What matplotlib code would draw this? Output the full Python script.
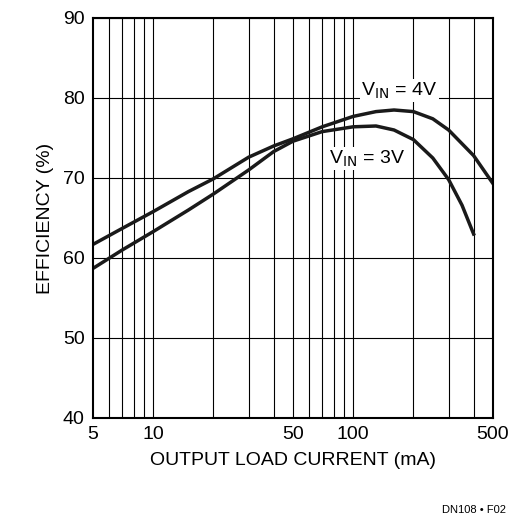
import matplotlib
matplotlib.use("Agg")
import matplotlib.pyplot as plt
import numpy as np

plt.rcParams['font.family'] = ['Liberation Sans Narrow', 'Liberation Sans', 'DejaVu Sans']

cur3 = [5, 7, 10, 15, 20, 30, 40, 50, 70, 100, 130, 160, 200, 250, 300, 350, 400]
eff3 = [58.7, 61.0, 63.3, 66.0, 68.0, 71.0, 73.3, 74.6, 75.8, 76.4, 76.5, 76.0, 74.8, 72.5, 69.8, 66.6, 63.0]
cur4 = [5, 7, 10, 15, 20, 30, 40, 50, 70, 100, 130, 160, 200, 250, 300, 400, 500]
eff4 = [61.7, 63.7, 65.8, 68.3, 69.9, 72.6, 74.0, 74.9, 76.4, 77.7, 78.3, 78.5, 78.3, 77.4, 76.0, 72.8, 69.3]
xticks = [5, 10, 50, 100, 500]
yticks = [40, 50, 60, 70, 80, 90]

fig = plt.figure(figsize=(5.19, 5.23), dpi=100)
ax = fig.add_axes([93/519, 105/523, 400/519, 400/523])
ax.set_xscale("log")
ax.set_xlim(5, 500)
ax.set_ylim(40, 90)
grid = [v for d in (1, 10, 100) for v in np.arange(1, 10) * d if 5 < v < 500]
for v in grid:
    ax.axvline(v, color="black", lw=0.8)
for v in yticks:
    ax.axhline(v, color="black", lw=0.8)
ax.plot(cur3, eff3, color="#1a1a1a", lw=2.5)
ax.plot(cur4, eff4, color="#1a1a1a", lw=2.5)
ax.set_xticks(xticks)
ax.set_xticklabels([str(t) for t in xticks])
ax.minorticks_off()
ax.set_yticks(yticks)
ax.tick_params(length=0, labelsize=14, pad=6)
for s in ax.spines.values():
    s.set_linewidth(1.5)
ax.set_xlabel("OUTPUT LOAD CURRENT (mA)", fontsize=14, labelpad=6)
ax.set_ylabel("EFFICIENCY (%)", fontsize=14, labelpad=6)
ax.text(170, 80.3, r"V$_{\rm IN}$ = 4V", ha="center", fontsize=14,
        bbox=dict(fc="white", ec="none", pad=1))
ax.text(76, 71.8, r"V$_{\rm IN}$ = 3V", ha="left", fontsize=14,
        bbox=dict(fc="white", ec="none", pad=1))
fig.text(0.975, 0.02, "DN108 • F02", ha="right", fontsize=8)
fig.savefig("out.png", dpi=100)
